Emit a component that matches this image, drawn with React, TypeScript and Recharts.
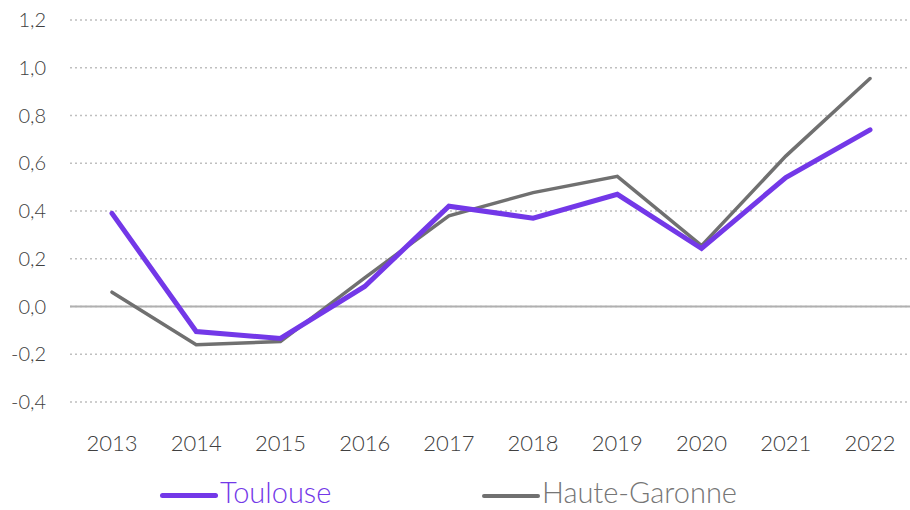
import React from 'react';
import { LineChart, Line, XAxis, YAxis, CartesianGrid, ReferenceLine, Legend } from 'recharts';

const years = ['2013', '2014', '2015', '2016', '2017', '2018', '2019', '2020', '2021', '2022'];
const toulouse = [0.39, -0.105, -0.134, 0.084, 0.42, 0.37, 0.47, 0.243, 0.54, 0.74];
const hauteGaronne = [0.06, -0.16, -0.147, 0.12, 0.38, 0.477, 0.545, 0.255, 0.63, 0.955];
const yTicks = [-0.4, -0.2, 0, 0.2, 0.4, 0.6, 0.8, 1.0, 1.2];

const data = years.map((y, i) => ({ year: y, toulouse: toulouse[i], hg: hauteGaronne[i] }));

const FONT = 'Lato, "Open Sans", sans-serif';
const PURPLE = '#7338E8';
const GRAY = '#707070';

const fmt = (v: number) => v.toFixed(1).replace('.', ',');

const LegendContent = () => (
  <div style={{ position: 'relative', height: 40, fontFamily: FONT, fontWeight: 300, fontSize: 29 }}>
    <div style={{ position: 'absolute', left: 160, top: 23, width: 58, height: 5, borderRadius: 3, background: PURPLE }} />
    <div style={{ position: 'absolute', left: 220, top: 4, color: PURPLE, lineHeight: 'normal', whiteSpace: 'nowrap' }}>Toulouse</div>
    <div style={{ position: 'absolute', left: 482, top: 24, width: 58, height: 3.5, borderRadius: 2, background: GRAY }} />
    <div style={{ position: 'absolute', left: 542, top: 4, color: '#767676', lineHeight: 'normal', whiteSpace: 'nowrap' }}>Haute-Garonne</div>
  </div>
);

export default function App() {
  return (
    <div style={{ position: 'absolute', left: 0, top: 0, width: 910, height: 510, background: '#fff' }}>
      <LineChart width={910} height={510} data={data} margin={{ top: 20, right: 0, bottom: 38, left: 0 }}>
        <CartesianGrid vertical={false} stroke="#bfbfbf" strokeDasharray="2 3" strokeWidth={1.5} />
        <XAxis
          dataKey="year"
          axisLine={false}
          tickLine={false}
          tickSize={0}
          tickMargin={33}
          interval={0}
          padding={{ left: 42, right: 40 }}
          tick={{ fill: '#404040', fontSize: 22, fontFamily: FONT, fontWeight: 300 }}
        />
        <YAxis
          width={70}
          domain={[-0.4, 1.2]}
          ticks={yTicks}
          tickFormatter={fmt}
          axisLine={false}
          tickLine={false}
          tickSize={0}
          tickMargin={24}
          tick={{ fill: '#404040', fontSize: 20, fontFamily: FONT, fontWeight: 300 }}
        />
        <ReferenceLine y={0} stroke="#b0b0b0" strokeWidth={2} />
        <Line type="linear" dataKey="hg" stroke={GRAY} strokeWidth={3.5} dot={false} isAnimationActive={false} strokeLinecap="round" />
        <Line type="linear" dataKey="toulouse" stroke={PURPLE} strokeWidth={5} dot={false} isAnimationActive={false} strokeLinecap="round" />
        <Legend verticalAlign="bottom" align="left" content={<LegendContent />} wrapperStyle={{ left: 0, bottom: 0, width: 910, height: 40 }} />
      </LineChart>
    </div>
  );
}
